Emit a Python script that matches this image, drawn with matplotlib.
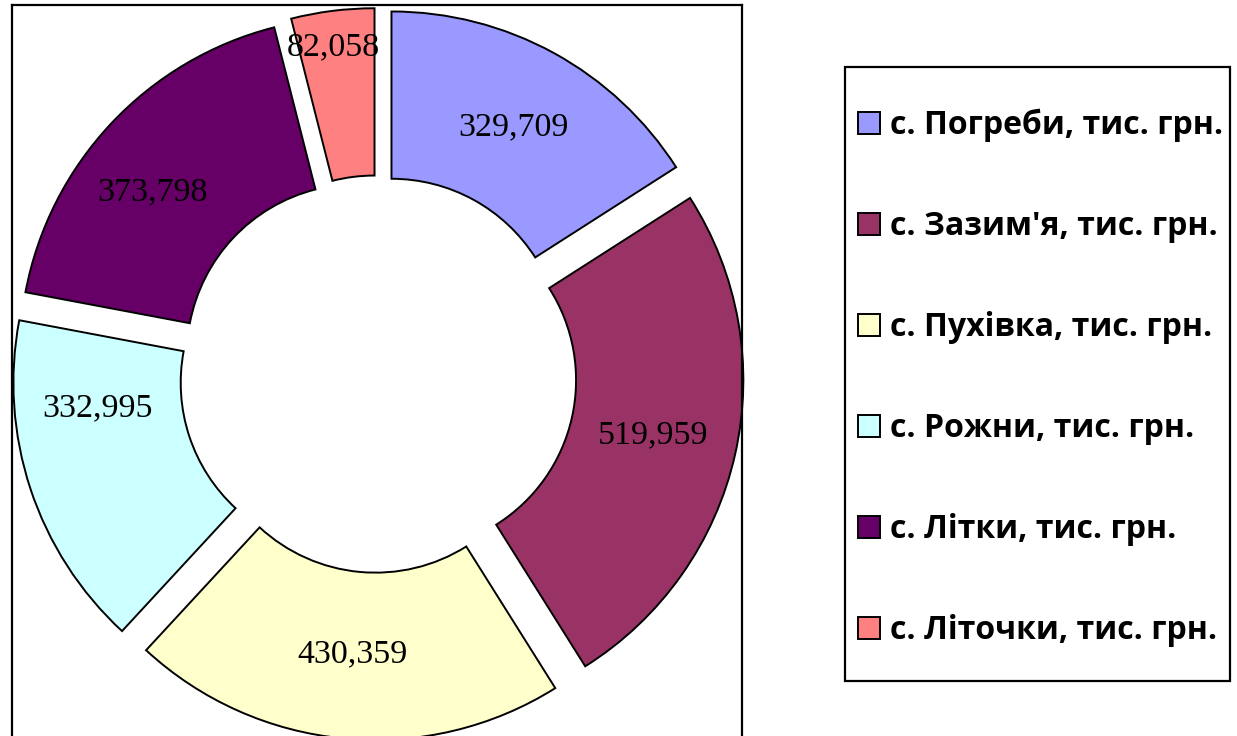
import matplotlib
matplotlib.use("Agg")
import matplotlib.pyplot as plt
from matplotlib.patches import Rectangle

# data (тис. грн.)
villages = ["с. Погреби, тис. грн.", "с. Зазим'я, тис. грн.", "с. Пухівка, тис. грн.",
            "с. Рожни, тис. грн.", "с. Літки, тис. грн.", "с. Літочки, тис. грн."]
values = [329.709, 519.959, 430.359, 332.995, 373.798, 82.058]
colors = ["#9999FF", "#993366", "#FFFFCC", "#CCFFFF", "#660066", "#FF8080"]

W, H = 1237, 736
fig = plt.figure(figsize=(W / 100, H / 100), dpi=100)

# pie area framed on top/left/right, bottom edge is off the picture
ax = fig.add_axes([12 / W, 0, 730 / W, 731 / H])
total = sum(values)

wedges, texts, autotexts = ax.pie(
    values, colors=colors, startangle=90, counterclock=False,
    explode=[0.083] * len(values), radius=1.0,
    wedgeprops=dict(width=0.495, edgecolor="black", linewidth=1.4),
    autopct=lambda p: f"{p * total / 100:.3f}".replace(".", ","),
    pctdistance=0.75,
    textprops=dict(family="Liberation Serif", fontsize=24.5, color="black"))

# a few labels sit off the mid-angle in the original
autotexts[3].set_position((-0.831, -0.101))
autotexts[4].set_position((-0.666, 0.538))
autotexts[5].set_position((-0.133, 0.967))

ax.set_frame_on(True)
ax.set_xlim(-1.083, 1.077)
ax.set_ylim(-1.071, 1.092)
ax.set_aspect("auto")
ax.set_xticks([])
ax.set_yticks([])
for side in ["top", "left", "right"]:
    ax.spines[side].set_linewidth(1.6)
    ax.spines[side].set_color("black")
ax.spines["bottom"].set_visible(False)

# legend box
fig.patches.append(Rectangle((845 / W, (H - 681) / H), 385 / W, 614 / H,
                             transform=fig.transFigure, fill=False,
                             edgecolor="black", linewidth=1.6))
fig.legend(wedges, villages, loc="center left",
           bbox_to_anchor=(842 / W, (H - 378) / H),
           frameon=False, borderpad=0, handlelength=0.7, handleheight=0.7,
           handletextpad=0.3, labelspacing=2.13,
           prop=dict(family="Open Sans", weight="bold", size=23))

fig.savefig("out.png", dpi=100)
